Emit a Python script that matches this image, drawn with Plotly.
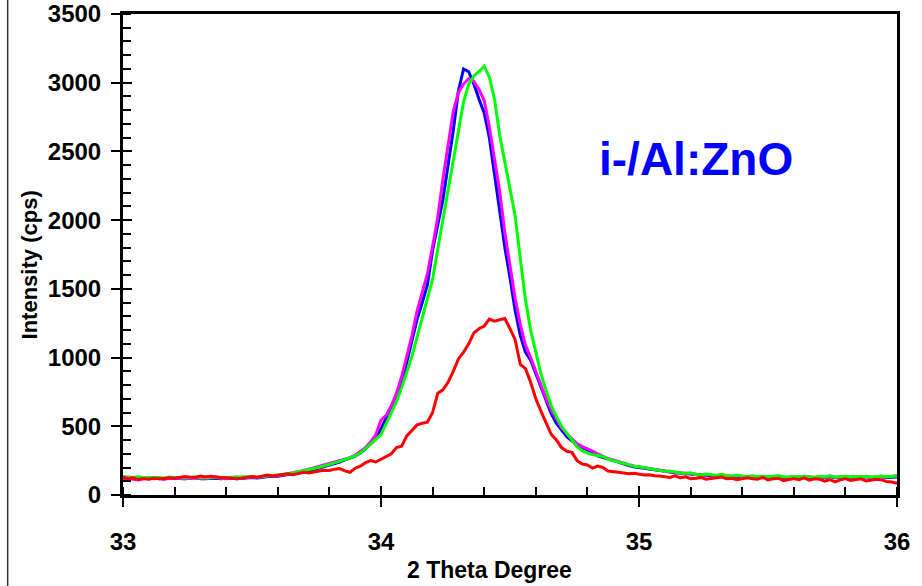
import plotly.graph_objects as go

# 2-theta scan: 33.00 .. 36.00 deg, 0.02 deg step
two_theta_start = 33.0
two_theta_step = 0.02
n_points = 151
two_theta = [round(two_theta_start + i * two_theta_step, 2) for i in range(n_points)]

intensity_blue = [
    125, 118, 122, 120, 115, 118, 121, 119, 117, 123, 120, 116, 118, 121, 125, 119, 117, 120, 122, 118,
    121, 124, 119, 122, 126,
    128, 124, 130, 133, 138, 136, 142, 148, 152, 160, 168, 175, 185, 195, 205,
    215, 225, 240, 255, 268, 282, 305, 335, 375, 415,
    480, 560, 620, 700, 810, 960, 1110, 1280, 1400, 1530,
    1780, 1960, 2150, 2400, 2650, 2940, 3100, 3080, 2990, 2880,
    2780, 2600, 2330, 2060, 1800, 1580, 1340, 1160, 1040, 980,
    880, 780, 680, 590, 520, 470, 425, 395, 365, 345,
    330, 312, 285, 272, 262, 250, 240, 226, 215, 206,
    200,
    195, 188, 182, 176, 172, 168, 162, 158, 155, 150,
    150, 146, 143, 140, 138, 142, 135, 133, 136, 131,
    130, 134, 128, 132, 127, 130, 135, 128, 126, 130,
    128, 132, 127, 125, 130, 128, 135, 126, 129, 131,
    127, 130, 128, 132, 126, 129, 133, 128, 130, 131,
]

intensity_magenta = [
    118, 122, 115, 110, 120, 124, 118, 121, 116, 119, 123, 120, 118, 122, 126, 120, 118, 123, 128, 121,
    119, 125, 130, 124, 128,
    132, 128, 135, 138, 142, 140, 148, 155, 160, 170, 178, 188, 198, 210, 220,
    228, 238, 250, 262, 272, 290, 315, 345, 385, 440,
    545, 580, 650, 740, 860, 1010, 1160, 1340, 1470, 1610,
    1810, 2020, 2300, 2560, 2790, 2930, 2990, 3030, 3010, 2950,
    2870, 2680, 2450, 2210, 1910, 1680, 1430, 1240, 1090, 1000,
    900, 800, 700, 620, 550, 490, 445, 405, 372, 352,
    338, 320, 300, 280, 265, 255, 242, 230, 220, 212,
    205,
    200, 192, 186, 180, 175, 170, 166, 160, 158, 155,
    152, 148, 150, 144, 141, 145, 138, 136, 140, 134,
    133, 137, 131, 135, 130, 133, 138, 131, 129, 134,
    131, 136, 130, 128, 133, 131, 138, 129, 132, 135,
    130, 134, 131, 136, 129, 132, 137, 131, 134, 140,
]

intensity_green = [
    135, 130, 128, 132, 125, 128, 130, 127, 124, 130, 128, 125, 126, 129, 132, 127, 125, 128, 131, 126,
    128, 130, 127, 129, 132,
    134, 130, 136, 140, 142, 145, 150, 155, 160, 168, 175, 182, 192, 202, 212,
    222, 232, 245, 258, 270, 285, 305, 335, 370, 405,
    440, 520, 600, 680, 780, 900, 1010, 1150, 1290, 1420,
    1570, 1790, 2000, 2210, 2430, 2660, 2860, 2990, 3050, 3080,
    3120, 3040, 2880, 2620, 2420, 2230, 2030, 1720, 1420, 1200,
    1040, 880, 760, 650, 570, 500, 450, 400, 350, 322,
    305, 295, 290, 280, 260, 250, 238, 226, 218, 210,
    205,
    198, 190, 185, 178, 172, 175, 165, 160, 158, 162,
    150, 148, 152, 145, 142, 150, 140, 138, 145, 136,
    135, 140, 133, 137, 132, 136, 140, 133, 131, 135,
    132, 137, 131, 129, 134, 132, 139, 130, 133, 136,
    131, 135, 132, 137, 130, 133, 138, 132, 135, 138,
]

intensity_red = [
    130, 118, 125, 112, 120, 115, 122, 118, 120, 125, 122, 128, 135, 130, 128, 138, 132, 136, 130, 128,
    125, 120, 118, 122, 128,
    135, 130, 140, 145, 138, 142, 150, 155, 148, 158, 165, 160, 170, 175, 180,
    178, 188, 192, 175, 165, 195, 210, 235, 250, 240,
    262, 278, 300, 345, 355, 430, 470, 510, 522, 530,
    600, 740, 765, 820, 900, 990, 1040, 1100, 1180, 1210,
    1230, 1280, 1265, 1275, 1285, 1210, 1130, 950, 920, 820,
    700, 610, 520, 440, 400, 345, 318, 310, 250, 225,
    218, 195, 210, 200, 175, 168, 165, 160, 155, 158,
    150,
    145, 148, 140, 138, 135, 128, 140, 125, 132, 118,
    122, 128, 115, 120, 125, 130, 118, 122, 112, 120,
    125, 118, 115, 128, 110, 118, 122, 105, 115, 120,
    112, 125, 108, 118, 115, 100, 112, 95, 110, 120,
    105, 112, 118, 102, 108, 115, 110, 98, 95, 85,
]

series = [
    ("blue", intensity_blue, "#0000FF"),
    ("magenta", intensity_magenta, "#FF00FF"),
    ("green", intensity_green, "#00FF00"),
    ("red", intensity_red, "#FF0000"),
]

x_ticks = [33, 34, 35, 36]
y_ticks = [0, 500, 1000, 1500, 2000, 2500, 3000, 3500]
sample_label = "i-/Al:ZnO"
x_title = "2 Theta Degree"
y_title = "Intensity (cps)"

FONT = "Liberation Sans, Arial, sans-serif"

fig = go.Figure()
for name, values, color in series:
    fig.add_trace(go.Scatter(
        x=two_theta, y=values, mode="lines", name=name,
        line=dict(color=color, width=3), showlegend=False,
    ))

# helper trace so the overlay axes (inner halves of the major ticks) get drawn
fig.add_trace(go.Scatter(x=[None], y=[None], xaxis="x2", yaxis="y2",
                         mode="lines", showlegend=False, hoverinfo="skip"))

axis_common = dict(
    showgrid=False, zeroline=False, showline=True, linecolor="black",
    linewidth=3, mirror=True, ticks="outside", ticklen=9, tickwidth=2,
    tickcolor="black", automargin=False,
    tickfont=dict(family=FONT, size=24, color="black", weight="bold"),
)

title_font = dict(family=FONT, size=22, color="black", weight="bold")

fig.update_layout(
    width=922, height=586,
    margin=dict(l=123, r=25, t=14, b=91),
    paper_bgcolor="white", plot_bgcolor="white",
    xaxis=dict(
        range=[33, 36], tickvals=x_ticks, ticktext=[str(v) for v in x_ticks],
        minor=dict(dtick=0.2, ticks="inside", ticklen=8, tickwidth=2, tickcolor="black"),
        ticklabelstandoff=14,
        **axis_common,
    ),
    yaxis=dict(
        range=[0, 3500], tickvals=y_ticks, ticktext=[str(v) for v in y_ticks],
        minor=dict(dtick=100, ticks="inside", ticklen=8, tickwidth=2, tickcolor="black"),
        ticklabelstandoff=5,
        **axis_common,
    ),
    xaxis2=dict(range=[33, 36], overlaying="x", anchor="y", tickvals=x_ticks,
                ticks="inside", ticklen=9, tickwidth=2, tickcolor="black",
                showticklabels=False, showgrid=False, zeroline=False, showline=False),
    yaxis2=dict(range=[0, 3500], overlaying="y", anchor="x", tickvals=y_ticks,
                ticks="inside", ticklen=9, tickwidth=2, tickcolor="black",
                showticklabels=False, showgrid=False, zeroline=False, showline=False),
    annotations=[
        dict(x=35.22, y=2443, xref="x", yref="y", text=sample_label, showarrow=False,
             font=dict(family=FONT, size=46, color="#0000FF", weight="bold")),
        # axis titles placed as free text below / left of the frame
        dict(x=0.474, y=-0.155, xref="paper", yref="paper", text=x_title,
             showarrow=False, xanchor="center", yanchor="middle",
             font=dict(family=FONT, size=23, color="black", weight="bold")),
        dict(x=-0.121, y=0.478, xref="paper", yref="paper", text=y_title,
             showarrow=False, xanchor="center", yanchor="middle", textangle=-90,
             font=title_font),
    ],
    shapes=[dict(
        type="line", xref="paper", yref="paper",
        x0=-0.149, x1=-0.149, y0=-0.3, y1=1.2,
        line=dict(color="#333333", width=1.5),
    )],
)

fig.write_html("out.html")
